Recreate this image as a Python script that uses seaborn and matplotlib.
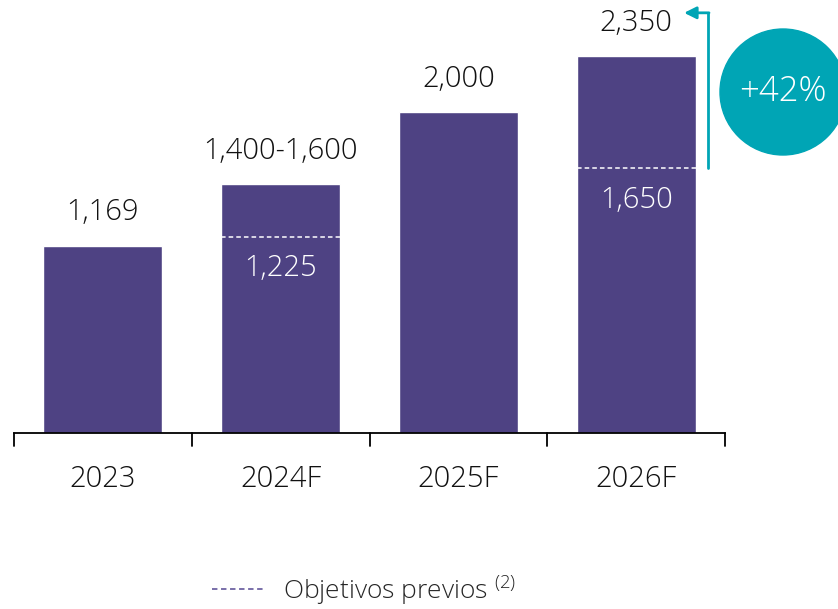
import matplotlib
matplotlib.use("Agg")
import matplotlib.pyplot as plt
import seaborn as sns
import pandas as pd
from matplotlib.patches import Ellipse
from matplotlib.lines import Line2D

# data
years = ["2023", "2024F", "2025F", "2026F"]
values = [1169, 1550, 2000, 2350]
top_labels = ["1,169", "1,400-1,600", "2,000", "2,350"]
previous = [None, 1225, None, 1650]
prev_labels = [None, "1,225", None, "1,650"]
growth_label = "+42%"

purple = "#4E4283"
teal = "#00A5B5"

sns.set_theme(style="white")
plt.rcParams["font.family"] = ["Open Sans", "DejaVu Sans"]
plt.rcParams["font.weight"] = "light"
plt.rcParams["mathtext.fontset"] = "custom"
plt.rcParams["mathtext.rm"] = "Open Sans:light"

df = pd.DataFrame({"year": years, "value": values})

fig = plt.figure(figsize=(8.38, 6.09), dpi=100)
ax = fig.add_axes([14 / 838, 176 / 609, 711 / 838, 433 / 609])
sns.barplot(data=df, x="year", y="value", color=purple, width=0.67,
            saturation=1, ax=ax)

ax.set_xlim(-0.5, 3.5)
ax.set_ylim(0, 2700)
ax.set_xlabel("")
ax.set_ylabel("")
ax.set_yticks([])
for s in ["top", "right", "left"]:
    ax.spines[s].set_visible(False)
ax.spines["bottom"].set_color("black")
ax.spines["bottom"].set_linewidth(1.3)

# ticks sit at category boundaries, labels centred underneath
ax.set_xticks([])
for i in range(len(years) + 1):
    ax.plot([i - 0.5, i - 0.5], [0, -80], color="black", lw=1.3, clip_on=False)
for i, yr in enumerate(years):
    ax.annotate(yr, (i, 0), xytext=(0, -33), textcoords="offset points",
                ha="center", va="center", fontsize=21, color="#111111")

# value labels above bars
for i, (v, lab) in enumerate(zip(values, top_labels)):
    ax.annotate(lab, (i, v), xytext=(0, 24), textcoords="offset points",
                ha="center", va="center", fontsize=21, color="#111111")

# previous targets: dashed white line and label inside bar
for i, (p, lab) in enumerate(zip(previous, prev_labels)):
    if p is None:
        continue
    ax.plot([i - 0.335, i + 0.335], [p, p], color="white", lw=1.1,
            linestyle=(0, (3, 2)))
    ax.annotate(lab, (i, p), xytext=(0, -23), textcoords="offset points",
                ha="center", va="center", fontsize=21, color="white")

# growth arrow
ax_x = 3.404
top_y = values[-1] + 270
ax.plot([ax_x, ax_x], [previous[-1], top_y], color=teal, lw=2, clip_on=False)
ax.annotate("", xy=(3.27, top_y), xytext=(ax_x + 0.006, top_y),
            arrowprops=dict(arrowstyle="-|>", color=teal, lw=2,
                            mutation_scale=18, shrinkA=0, shrinkB=0),
            annotation_clip=False)

# growth bubble
circ = Ellipse((783 / 838, 1 - 92 / 609), 126 / 838, 126 / 609,
               transform=fig.transFigure, color=teal, zorder=5)
fig.add_artist(circ)
fig.text(783 / 838, 1 - 92 / 609, growth_label, ha="center", va="center",
         fontsize=25, color="white", zorder=6)

# legend
handle = Line2D([0], [0], color="#6E63A3", lw=1.3, linestyle=(0, (3, 2)))
fig.legend([handle], [r"Objetivos previos $^{\mathrm{(2)}}$"],
           loc="center", bbox_to_anchor=(364 / 838, 1 - 590 / 609),
           frameon=False, fontsize=19, handlelength=2.05, handletextpad=0.65,
           borderpad=0.2)

fig.savefig("out.png", dpi=100)
